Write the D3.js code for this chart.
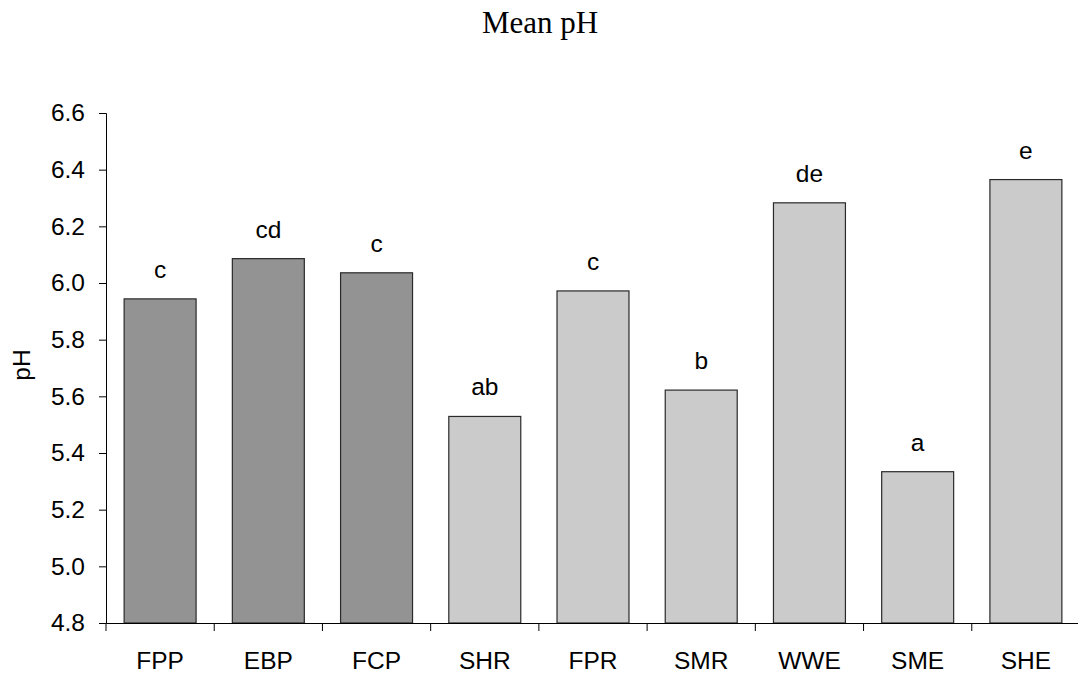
<!DOCTYPE html>
<html><head><meta charset="utf-8">
<script src="https://cdn.jsdelivr.net/npm/d3@7"></script>
<style>body{margin:0;background:#fff}svg{display:block}</style>
</head><body>
<svg id="c" width="1078" height="675"></svg>
<script>
const categories = ["FPP","EBP","FCP","SHR","FPR","SMR","WWE","SME","SHE"];
const values = [5.944, 6.086, 6.036, 5.529, 5.972, 5.622, 6.283, 5.334, 6.365];
const letters = ["c","cd","c","ab","c","b","de","a","e"];
const groups = ["dark","dark","dark","light","light","light","light","light","light"];
const yTicks = [4.8,5.0,5.2,5.4,5.6,5.8,6.0,6.2,6.4,6.6];
const title = "Mean pH";
const yTitle = "pH";

(function(){
const svg = d3.select("#c");
const pL = 106, pR = 1080, pT = 113, pB = 623;
const sans = "'Liberation Sans', Arial, sans-serif";
const fs = 24.5;
const x = d3.scaleBand().domain(categories).range([pL, pR]).paddingInner(0.335).paddingOuter(0.1675);
const xb = d3.scaleBand().domain(categories).range([pL, pR]);
const y = d3.scaleLinear().domain([4.8, 6.6]).range([pB, pT]);
const color = d3.scaleOrdinal().domain(["dark","light"]).range(["#939393","#cbcbcb"]);

svg.append("text").attr("x", 540).attr("y", 32.5).attr("text-anchor","middle")
  .attr("font-family","'Liberation Serif', 'Times New Roman', serif").attr("font-size", 31).text(title);

svg.selectAll("rect.bar").data(categories).join("rect").attr("class","bar")
  .attr("x", d => x(d)).attr("width", x.bandwidth())
  .attr("y", (d,i) => y(values[i])).attr("height", (d,i) => pB - y(values[i]))
  .attr("fill", (d,i) => color(groups[i])).attr("stroke", "#2a2a2a").attr("stroke-width", 1.2);

svg.selectAll("text.let").data(categories).join("text").attr("class","let")
  .attr("x", d => x(d) + x.bandwidth()/2).attr("y", (d,i) => y(values[i]) - 21)
  .attr("text-anchor","middle").attr("font-family", sans)
  .attr("font-size", fs).attr("fill","#000").text((d,i) => letters[i]);

const yAxis = svg.append("g").attr("transform", `translate(${pL},0)`)
  .call(d3.axisLeft(y).tickValues(yTicks).tickFormat(d3.format(".1f")).tickSize(7).tickPadding(14));
yAxis.selectAll("text").attr("font-family", sans).attr("font-size", fs).attr("fill","#000");
yAxis.select(".domain").attr("stroke","#000");
yAxis.selectAll(".tick line").attr("stroke","#000");

const xAxis = svg.append("g").attr("transform", `translate(0,${pB})`)
  .call(d3.axisBottom(xb).tickSize(0).tickSizeOuter(0).tickPadding(29));
xAxis.selectAll("text").attr("font-family", sans).attr("font-size", fs).attr("fill","#000");
xAxis.select(".domain").attr("stroke","#000");
xAxis.selectAll("line.sep").data(categories).join("line").attr("class","sep")
  .attr("x1", d => xb(d)).attr("x2", d => xb(d)).attr("y1", 0).attr("y2", 8).attr("stroke","#000");

svg.append("text").attr("transform", `translate(30,365) rotate(-90)`)
  .attr("text-anchor","middle").attr("font-family", sans)
  .attr("font-size", fs).text(yTitle);
})();
</script>
</body></html>
